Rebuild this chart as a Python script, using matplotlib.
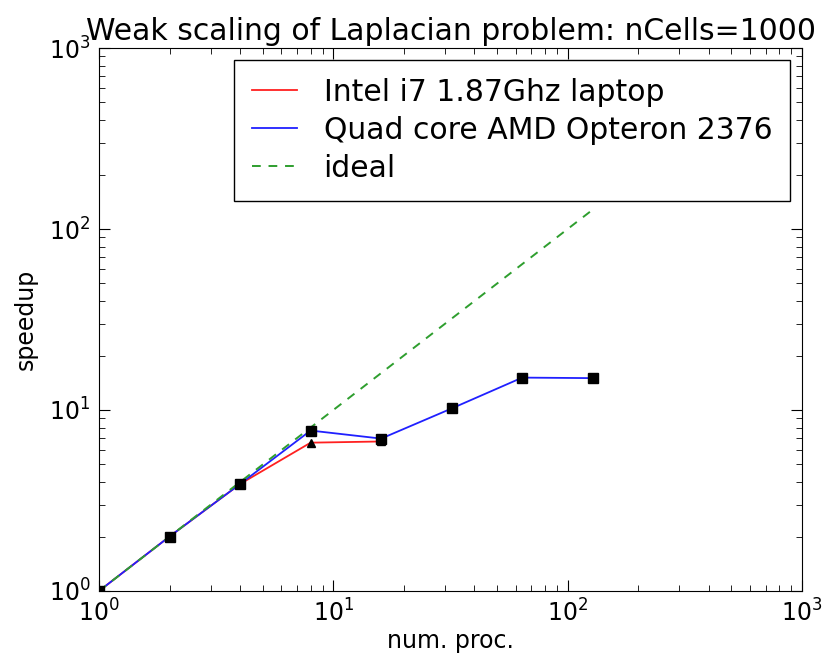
import numpy as np
import matplotlib
matplotlib.use('Agg')
import matplotlib.pyplot as plt

# data
procs_intel = [1, 2, 4, 8, 16]
speedup_intel = [1.0, 2.0, 3.9, 6.6, 6.7]
procs_amd = [1, 2, 4, 8, 16, 32, 64, 128]
speedup_amd = [1.0, 2.0, 3.9, 7.7, 6.95, 10.2, 15.1, 15.0]
procs_ideal = [1, 2, 4, 8, 16, 32, 64, 128]
speedup_ideal = [1, 2, 4, 8, 16, 32, 64, 128]

plt.rcParams['font.family'] = 'DejaVu Sans'

fig = plt.figure(figsize=(8.25, 6.56), dpi=100)
ax = fig.add_axes([99/825., 1 - 591/656., (802-99)/825., (591-48)/656.])

ax.loglog(procs_intel, speedup_intel, '-', color='#ff2020', lw=1.3, label='Intel i7 1.87Ghz laptop')
ax.loglog(procs_amd, speedup_amd, '-', color='#2020ff', lw=1.3, label='Quad core AMD Opteron 2376')
ax.loglog(procs_ideal, speedup_ideal, '--', color='#2e9e2e', lw=1.4, dashes=(4.5, 4),
          label='ideal')
ax.loglog(procs_intel, speedup_intel, 'k^', ms=6)
ax.loglog(procs_amd, speedup_amd, 'ks', ms=7)

ax.set_xlim(1, 1000)
ax.set_ylim(1, 1000)
ax.set_xlabel('num. proc.', fontsize=17, labelpad=2)
ax.set_ylabel('speedup', fontsize=17, labelpad=8)
ax.set_title('Weak scaling of Laplacian problem: nCells=1000', fontsize=21.5)
ax.tick_params(which='major', direction='in', length=8, labelsize=17, top=True, right=True, pad=6)
ax.tick_params(which='minor', direction='in', length=4, top=True, right=True)

leg = ax.legend(loc='upper right', fontsize=21.5, fancybox=False, framealpha=1,
                edgecolor='k', handlelength=1.5, handletextpad=0.9, borderpad=0.6,
                labelspacing=0.3, borderaxespad=0.4)
leg.get_frame().set_linewidth(1.0)

fig.savefig('out.png', dpi=100)
